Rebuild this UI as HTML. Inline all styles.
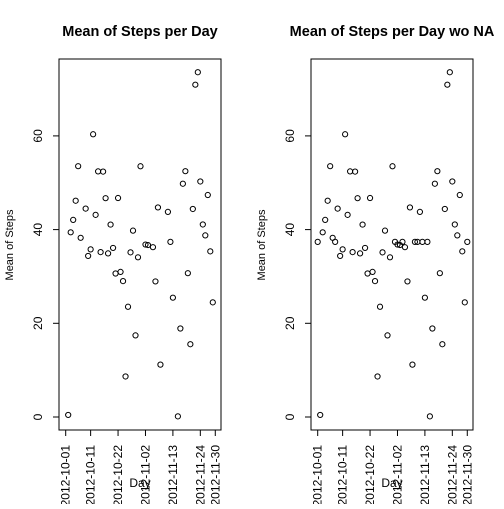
<!DOCTYPE html>
<html><head><meta charset="utf-8"><style>
body{margin:0;background:#fff}
svg text{font-family:"Liberation Sans",Arial,sans-serif;fill:#000}
</style></head><body>
<svg id="c" width="504" height="504" xmlns="http://www.w3.org/2000/svg"></svg>
<script>
const days=["10-02","10-03","10-04","10-05","10-06","10-07","10-09","10-10","10-11","10-12","10-13","10-14","10-15","10-16","10-17","10-18","10-19","10-20","10-21","10-22","10-23","10-24","10-25","10-26","10-27","10-28","10-29","10-30","10-31","11-02","11-03","11-05","11-06","11-07","11-08","11-11","11-12","11-13","11-15","11-16","11-17","11-18","11-19","11-20","11-21","11-22","11-23","11-24","11-25","11-26","11-27","11-28","11-29"];
const means=[0.44,39.42,42.07,46.16,53.54,38.25,44.48,34.38,35.78,60.35,43.15,52.42,35.20,52.38,46.71,34.92,41.07,36.09,30.63,46.74,30.97,29.01,8.65,23.53,35.14,39.78,17.42,34.09,53.52,36.81,36.70,36.25,28.94,44.73,11.18,43.78,37.38,25.47,0.14,18.89,49.79,52.47,30.70,15.53,44.40,70.93,73.59,50.27,41.09,38.76,47.38,35.36,24.47];
const naDays=["10-01","10-08","11-01","11-04","11-09","11-10","11-14","11-30"];
const fillValue=37.38;
const xTickLabels=["2012-10-01","2012-10-11","2012-10-22","2012-11-02","2012-11-13","2012-11-24","2012-11-30"];
const yTicks=[0,20,40,60];
const svg=document.getElementById('c');
const NS="http://www.w3.org/2000/svg";
function dayIdx(s){const p=s.replace(/^2012-/,'').split('-');return (+p[0]===10?0:31)+(+p[1])-1;}
function mk(t,a,parent){const e=document.createElementNS(NS,t);for(const k in a)e.setAttribute(k,a[k]);(parent||svg).appendChild(e);return e;}
function panel(off,title,dd,vv,name){
  const g=mk('g',{});
  
  
  const X=d=>off+65.7+dayIdx(d)*2.493, Y=v=>417-v*4.685;
  const box=mk('rect',{x:off+59,y:59,width:162,height:371,fill:'none',stroke:'#000','stroke-width':1},g);
  
  
  const t=mk('text',{x:off+140,y:36,'text-anchor':'middle','font-size':14.5,'font-weight':'bold'},g);t.textContent=title;
  
  
  const yl=mk('text',{transform:`translate(${off+13},245) rotate(-90)`,'text-anchor':'middle','font-size':11},g);yl.textContent='Mean of Steps';
  
  
  const xl=mk('text',{x:off+140,y:487,'text-anchor':'middle','font-size':12},g);xl.textContent='Day';
  
  
  mk('line',{x1:off+59,x2:off+59,y1:Y(yTicks[0]),y2:Y(yTicks[yTicks.length-1]),stroke:'#000'},g);
  yTicks.forEach(v=>{
    mk('line',{x1:off+53,x2:off+59,y1:Y(v),y2:Y(v),stroke:'#000'},g);
    const l=mk('text',{transform:`translate(${off+42},${Y(v)}) rotate(-90)`,'text-anchor':'middle','font-size':12},g);l.textContent=v;
    
    
  });
  mk('line',{x1:X(xTickLabels[0]),x2:X(xTickLabels[xTickLabels.length-1]),y1:430,y2:430,stroke:'#000'},g);
  xTickLabels.forEach(s=>{
    const x=X(s);
    mk('line',{x1:x,x2:x,y1:430,y2:436,stroke:'#000'},g);
    const l=mk('text',{transform:`translate(${x+4},445) rotate(-90)`,'text-anchor':'end','font-size':12},g);l.textContent=s;
    
    
  });
  dd.forEach((d,i)=>{
    const c=mk('circle',{cx:X(d),cy:Y(vv[i]),r:2.6,fill:'none',stroke:'#000','stroke-width':1},g);
    
    
  });
}
panel(0,'Mean of Steps per Day',days,means,'panel-with-na');
const d2=days.concat(naDays), v2=means.concat(naDays.map(()=>fillValue));
panel(252,'Mean of Steps per Day wo NA',d2,v2,'panel-without-na');
</script>
</body></html>
